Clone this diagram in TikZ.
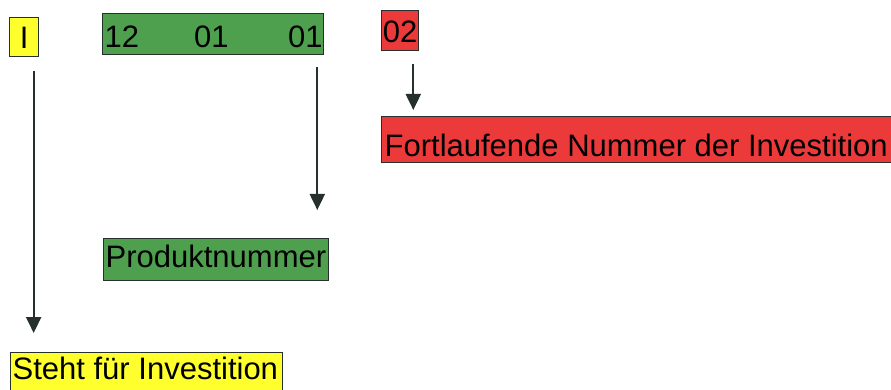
\documentclass[tikz,border=0pt]{standalone}
\usepackage{fontspec}
\setmainfont{Liberation Sans}
\usetikzlibrary{arrows.meta}
\definecolor{boxyellow}{RGB}{255,255,45}
\definecolor{boxgreen}{RGB}{78,160,78}
\definecolor{boxred}{RGB}{236,58,58}
\definecolor{edge}{RGB}{38,48,44}
\newcommand{\lbox}[2]{\makebox[#1][l]{#2}}
\tikzset{
  lbl/.style={draw=edge, line width=1.3pt, anchor=north west, inner ysep=0pt,
    font=\fontsize{31}{31}\selectfont},
  arr/.style={draw=edge, line width=2pt, -{Triangle[width=15pt,length=16pt]}}
}
\begin{document}
\begin{tikzpicture}[x=1pt,y=-1pt]
\clip (0,0) rectangle (891,390);
\fill[white] (0,0) rectangle (891,390);
% top boxes
\node[lbl, fill=boxyellow, inner xsep=0pt,
  text height=31pt, text depth=8pt] (I) at (9,17) {\makebox[29pt][c]{I}};
\node[lbl, fill=boxgreen, inner xsep=2pt,
  text height=34pt, text depth=7pt] (g) at (102,13) {\lbox{217pt}{12\hspace{55pt}01\hspace{59.5pt}01}};
\node[lbl, fill=boxred, inner xsep=0pt,
  text height=32pt, text depth=8pt] (r) at (381,10) {\makebox[37pt][c]{02}};
% bottom labels
\node[lbl, fill=boxred, inner xsep=3pt,
  text height=40pt, text depth=6pt] (fn) at (381,116) {\lbox{520pt}{Fortlaufende Nummer der Investition}};
\node[lbl, fill=boxgreen, inner xsep=2pt,
  text height=29pt, text depth=13pt] (pn) at (103,238) {\lbox{221pt}{Produktnummer}};
\node[lbl, fill=boxyellow, inner xsep=2pt,
  text height=27pt, text depth=14pt] (si) at (10,352) {\lbox{268pt}{Steht für Investition}};
% arrows
\draw[arr, shorten <=14pt, shorten >=19pt] ([xshift=9.5pt]I.south) -- ([xshift=9.5pt]I.south |- si.north);
\draw[arr, shorten <=12pt, shorten >=28pt] ([xshift=-7pt]g.south east) -- ([xshift=-7pt]g.south east |- pn.north);
\draw[arr, shorten <=13pt, shorten >=6pt] ([xshift=-6pt]r.south east) -- ([xshift=-6pt]r.south east |- fn.north);
\end{tikzpicture}
\end{document}
